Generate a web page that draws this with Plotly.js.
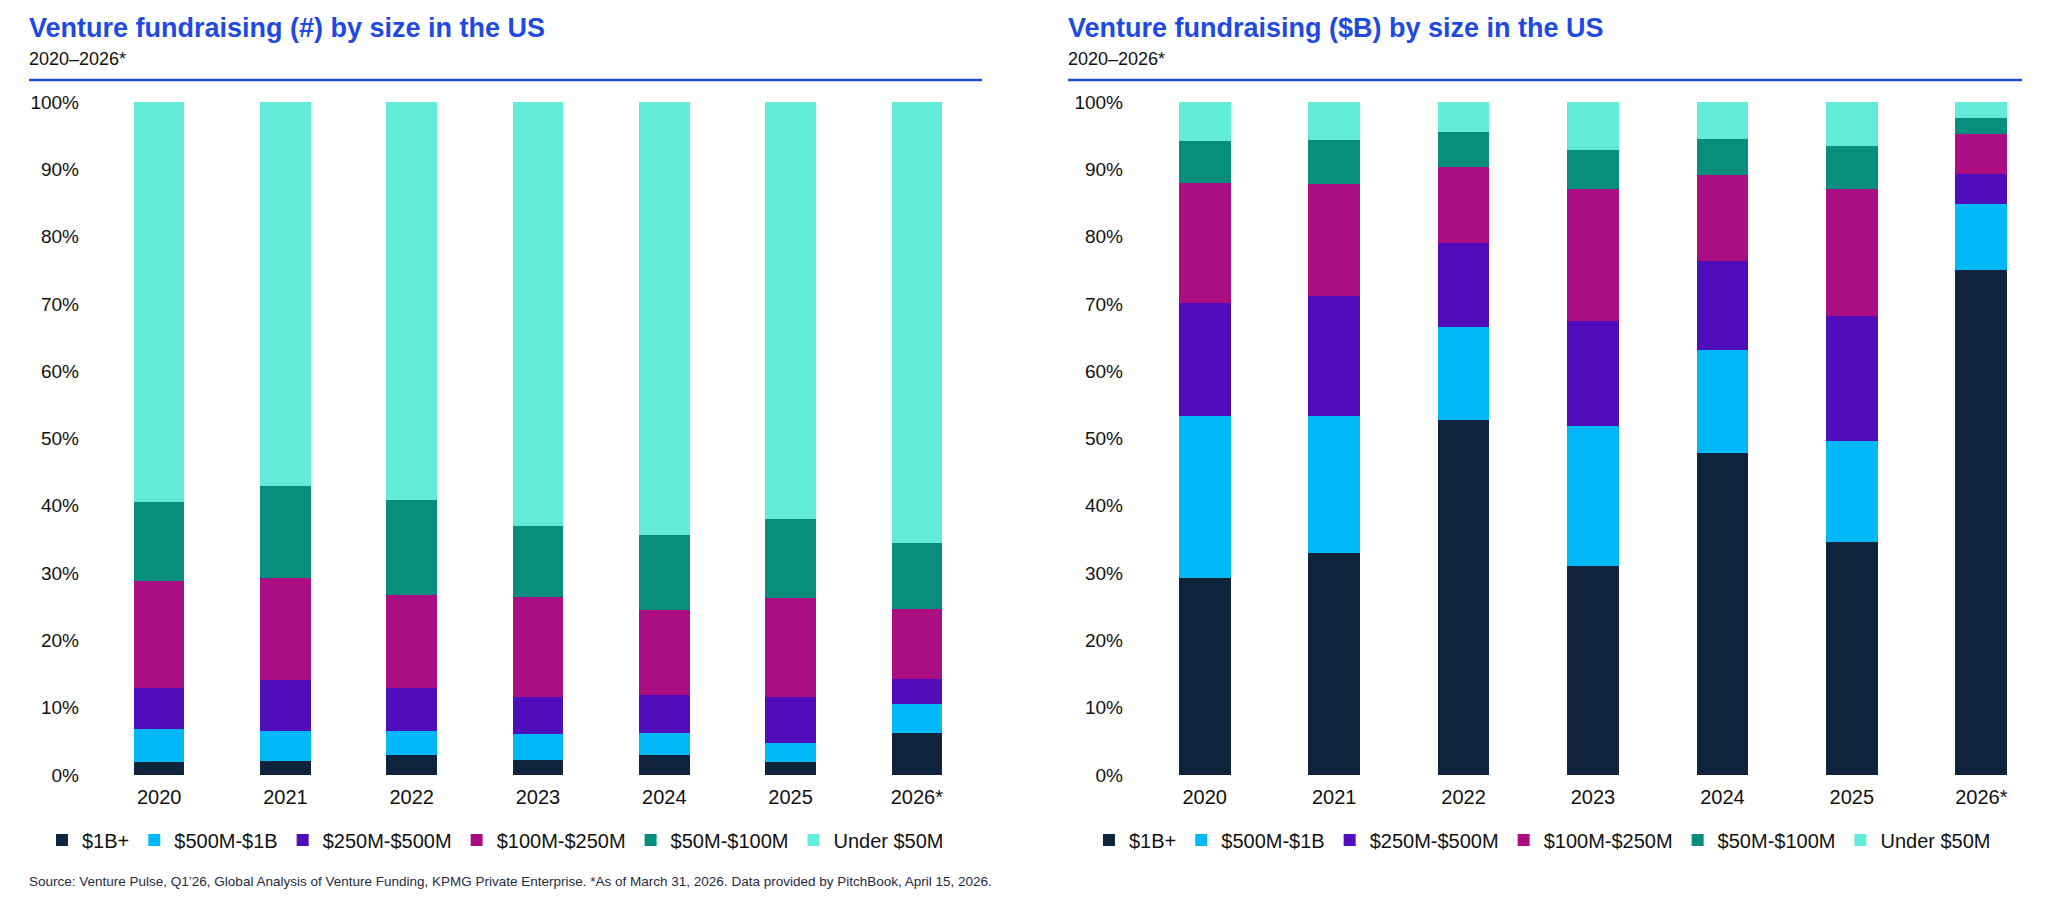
<!DOCTYPE html>
<html>
<head>
<meta charset="utf-8">
<script src="https://cdn.plot.ly/plotly-3.0.1.min.js"></script>
<style>
  html, body { margin: 0; padding: 0; background: #fff; }
  #graph { width: 2048px; height: 908px; }
</style>
</head>
<body>
<div id="graph"></div>
<script>
// categories and series (share of total, %)
const years = ['2020', '2021', '2022', '2023', '2024', '2025', '2026*'];
const seriesNames = ['$1B+', '$500M-$1B', '$250M-$500M', '$100M-$250M', '$50M-$100M', 'Under $50M'];
const seriesColors = ['#0f233c', '#00b8f5', '#510dbc', '#ab0d82', '#098e7e', '#63ebda'];

// Venture fundraising (#)
const count1B = [2.0, 2.1, 2.9, 2.2, 3.0, 2.0, 6.2];
const count500M = [4.8, 4.4, 3.7, 3.9, 3.3, 2.7, 4.4];
const count250M = [6.2, 7.6, 6.4, 5.5, 5.6, 6.9, 3.7];
const count100M = [15.8, 15.1, 13.8, 14.8, 12.6, 14.7, 10.4];
const count50M = [11.8, 13.7, 14.0, 10.6, 11.2, 11.8, 9.8];
const countUnder50M = [59.4, 57.1, 59.2, 63.0, 64.3, 61.9, 65.5];

// Venture fundraising ($B)
const value1B = [29.2, 33.0, 52.7, 31.1, 47.8, 34.6, 75.0];
const value500M = [24.1, 20.3, 13.8, 20.8, 15.4, 15.0, 9.8];
const value250M = [16.9, 17.9, 12.5, 15.6, 13.2, 18.6, 4.5];
const value100M = [17.8, 16.6, 11.4, 19.5, 12.8, 18.9, 6.0];
const value50M = [6.2, 6.5, 5.2, 5.9, 5.3, 6.4, 2.3];
const valueUnder50M = [5.8, 5.7, 4.4, 7.1, 5.5, 6.5, 2.4];

const yTicks = [0, 10, 20, 30, 40, 50, 60, 70, 80, 90, 100];

const W = 2048, H = 908;
const px = x => x / W;
const py = y => (H - y) / H;
const FONT = 'Liberation Sans, Arial, sans-serif';

function makeTraces(seriesList, xaxis, yaxis, legend) {
    return seriesList.map((vals, i) => ({
        type: 'bar',
        x: years,
        y: vals,
        name: seriesNames[i],
        xaxis: xaxis,
        yaxis: yaxis,
        legend: legend,
        marker: { color: seriesColors[i], line: { width: 0 } },
        hovertemplate: '%{x}: %{y:.1f}%<extra>' + seriesNames[i] + '</extra>'
    }));
}

function yAxis(anchor) {
    return {
        domain: [py(775), py(102)],
        anchor: anchor,
        range: [0, 100],
        tickvals: yTicks,
        ticktext: yTicks.map(v => v + '%'),
        showgrid: false,
        zeroline: false,
        showline: false,
        ticks: '',
        ticklabelstandoff: 16,
        tickfont: { family: FONT, size: 19, color: '#111' },
        fixedrange: true
    };
}

function xAxis(domain, anchor) {
    return {
        domain: domain,
        anchor: anchor,
        type: 'category',
        showgrid: false,
        zeroline: false,
        showline: false,
        ticks: '',
        ticklabelstandoff: 8,
        tickfont: { family: FONT, size: 20, color: '#111' },
        fixedrange: true
    };
}

function legendBox(x) {
    return {
        orientation: 'h',
        x: px(x),
        y: py(840),
        xanchor: 'left',
        yanchor: 'middle',
        traceorder: 'normal',
        itemwidth: 30,
        bgcolor: 'rgba(0,0,0,0)',
        font: { family: FONT, size: 20, color: '#111' }
    };
}

function textNote(text, x, y, size, color, bold) {
    return {
        xref: 'paper', yref: 'paper',
        x: px(x), y: py(y),
        xanchor: 'left', yanchor: 'middle',
        showarrow: false,
        text: bold ? '<b>' + text + '</b>' : text,
        font: { family: FONT, size: size, color: color }
    };
}

function draw() {
    const data = makeTraces(
        [count1B, count500M, count250M, count100M, count50M, countUnder50M], 'x', 'y', 'legend'
    ).concat(makeTraces(
        [value1B, value500M, value250M, value100M, value50M, valueUnder50M], 'x2', 'y2', 'legend2'
    ));

    const layout = {
        width: W,
        height: H,
        margin: { l: 0, r: 0, t: 0, b: 0 },
        paper_bgcolor: '#fff',
        plot_bgcolor: '#fff',
        barmode: 'stack',
        bargap: 0.6,
        showlegend: true,
        xaxis: xAxis([px(96), px(980)], 'y'),
        yaxis: yAxis('x'),
        xaxis2: xAxis([px(1140), px(2046)], 'y2'),
        yaxis2: yAxis('x2'),
        legend: legendBox(42),
        legend2: legendBox(1089),
        shapes: [
            { type: 'line', xref: 'paper', yref: 'paper', x0: px(29), x1: px(982), y0: py(80), y1: py(80),
              line: { color: '#1e49e2', width: 2.5 } },
            { type: 'line', xref: 'paper', yref: 'paper', x0: px(1068), x1: px(2022), y0: py(80), y1: py(80),
              line: { color: '#1e49e2', width: 2.5 } }
        ],
        annotations: [
            textNote('Venture fundraising (#) by size in the US', 27, 28, 27, '#1e49e2', true),
            textNote('2020–2026*', 27, 59, 18, '#111', false),
            textNote('Venture fundraising ($B) by size in the US', 1066, 28, 27, '#1e49e2', true),
            textNote('2020–2026*', 1066, 59, 18, '#111', false),
            textNote('Source: Venture Pulse, Q1’26, Global Analysis of Venture Funding, KPMG Private Enterprise. *As of March 31, 2026. Data provided by PitchBook, April 15, 2026.',
                27, 881, 13.5, '#1f2a44', false)
        ]
    };

    Plotly.newPlot('graph', data, layout, { displayModeBar: false });
}

window.addEventListener('load', draw, false);
</script>
</body>
</html>
